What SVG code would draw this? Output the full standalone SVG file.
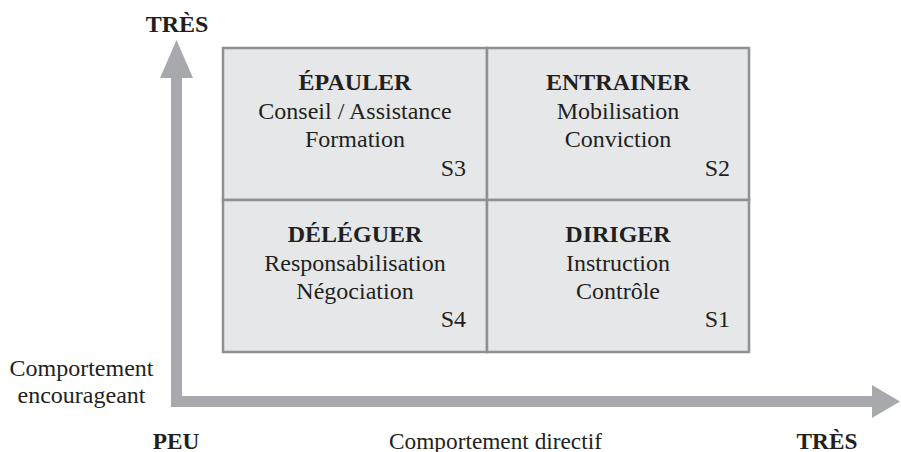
<svg xmlns="http://www.w3.org/2000/svg" width="901" height="452" viewBox="0 0 901 452">
<style>
text{font-family:'Liberation Serif','Times New Roman',serif;font-size:24px;fill:#231f20}
.b{font-weight:bold}
.c{text-anchor:middle}
.r{text-anchor:end}
.s{font-size:23.3px}
.q{fill:#e6e7e8;stroke:#8e9092;stroke-width:2.5}
.ax{fill:#a7a9ac}
</style>
<rect width="901" height="452" fill="#ffffff"/>
<g id="axes">
<path class="ax" d="M176.5,40 L193,78 L182,78 L182,396 L872,396 L872,385 L900,401.5 L872,418 L872,407 L171,407 L171,78 L160,78 Z"/>
</g>
<g id="q-epauler">
<rect class="q" x="223" y="48" width="264" height="152"/>
<text class="b c" x="355" y="90">ÉPAULER</text>
<text class="c" x="355" y="118.5">Conseil / Assistance</text>
<text class="c" x="355" y="147">Formation</text>
<text class="r" x="466" y="175.5">S3</text>
</g>
<g id="q-entrainer">
<rect class="q" x="487" y="48" width="262" height="152"/>
<text class="b c" x="618" y="90">ENTRAINER</text>
<text class="c" x="618" y="118.5">Mobilisation</text>
<text class="c" x="618" y="147">Conviction</text>
<text class="r" x="730" y="175.5">S2</text>
</g>
<g id="q-deleguer">
<rect class="q" x="223" y="200" width="264" height="152"/>
<text class="b c" x="355" y="241.5">DÉLÉGUER</text>
<text class="c" x="355" y="270.5">Responsabilisation</text>
<text class="c" x="355" y="298.5">Négociation</text>
<text class="r" x="466" y="326.5">S4</text>
</g>
<g id="q-diriger">
<rect class="q" x="487" y="200" width="262" height="152"/>
<text class="b c" x="618" y="241.5">DIRIGER</text>
<text class="c" x="618" y="270.5">Instruction</text>
<text class="c" x="618" y="298.5">Contrôle</text>
<text class="r" x="730" y="326.5">S1</text>
</g>
<g id="labels">
<text class="b c" x="177" y="32">TRÈS</text>
<text class="c" x="81.5" y="376">Comportement</text>
<text class="c" x="81.5" y="403">encourageant</text>
<text class="b c s" x="176" y="448.5">PEU</text>
<text class="c s" x="495.5" y="448.5">Comportement directif</text>
<text class="b c s" x="827" y="448.5">TRÈS</text>
</g>
</svg>
